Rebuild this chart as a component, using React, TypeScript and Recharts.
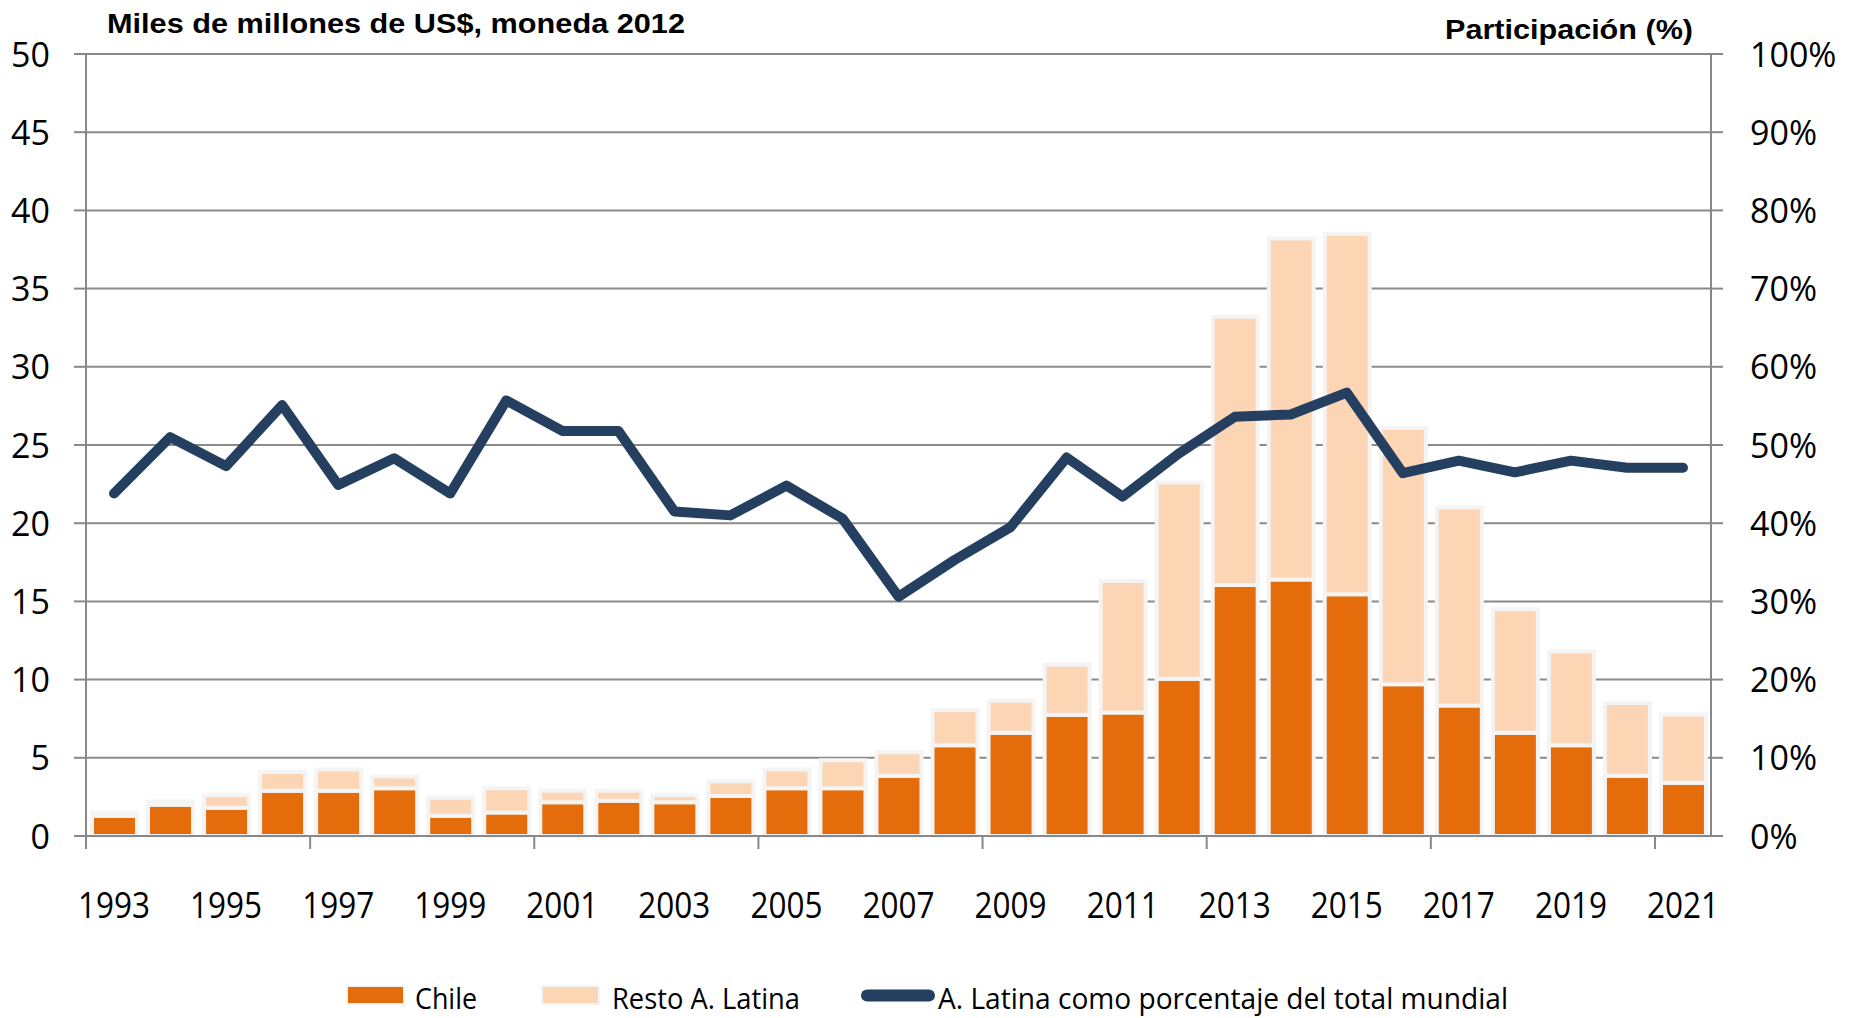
import React from 'react';
import { ComposedChart, Bar, Line, XAxis, YAxis, CartesianGrid } from 'recharts';

const years = [
  '1993', '1994', '1995', '1996', '1997', '1998', '1999', '2000', '2001', '2002',
  '2003', '2004', '2005', '2006', '2007', '2008', '2009', '2010', '2011', '2012',
  '2013', '2014', '2015', '2016', '2017', '2018', '2019', '2020', '2021',
];

const chile = [
  1.3, 2.0, 1.8, 2.9, 2.9, 3.05, 1.3, 1.5, 2.15, 2.25,
  2.15, 2.55, 3.05, 3.05, 3.85, 5.8, 6.6, 7.75, 7.9, 10.05,
  16.05, 16.4, 15.45, 9.7, 8.35, 6.6, 5.8, 3.85, 3.4,
];

const resto = [
  0.2, 0.2, 0.8, 1.2, 1.35, 0.75, 1.15, 1.55, 0.75, 0.65,
  0.45, 0.95, 1.2, 1.8, 1.5, 2.25, 2.05, 3.2, 8.4, 12.55,
  17.15, 21.8, 23.05, 16.4, 12.65, 7.9, 6.0, 4.65, 4.35,
];

const share = [
  43.8, 51.0, 47.3, 55.1, 44.9, 48.3, 43.8, 55.7, 51.8, 51.8,
  41.5, 41.0, 44.8, 40.6, 30.6, 35.3, 39.5, 48.4, 43.4, 48.9,
  53.6, 53.9, 56.7, 46.4, 48.0, 46.5, 48.0, 47.1, 47.1,
];

const leftTicks = [0, 5, 10, 15, 20, 25, 30, 35, 40, 45, 50];
const rightTicks = [0, 10, 20, 30, 40, 50, 60, 70, 80, 90, 100];

const titleLeft = 'Miles de millones de US$, moneda 2012';
const titleRight = 'Participación (%)';
const legendChile = 'Chile';
const legendResto = 'Resto A. Latina';
const legendLine = 'A. Latina como porcentaje del total mundial';

const data = years.map((y, i) => ({ year: y, chile: chile[i], resto: resto[i], share: share[i] }));

const FONT = "'Open Sans', sans-serif";
const BOLD = "'Liberation Sans', Arial, sans-serif";
const AXIS = '#888888';
const ORANGE = '#E46C0A';
const PEACH = '#FCD5B5';
const NAVY = '#243F60';

const XTick = (props: any) => {
  const { x, y, payload, index } = props;
  const half = payload && typeof payload.offset === 'number' ? payload.offset : 0;
  return (
    <g>
      {index % 4 === 0 && (
        <line x1={x - half} x2={x - half} y1={y} y2={y + 13} stroke={AXIS} strokeWidth={2} />
      )}
      {index % 2 === 0 && (
        <text x={x} y={y} dy={82} textAnchor="middle" fontFamily={FONT} fontSize={37}
          textLength={72} lengthAdjust="spacingAndGlyphs" fill="#000">
          {payload.value}
        </text>
      )}
    </g>
  );
};

const LeftTick = (props: any) => {
  const { x, y, payload } = props;
  return (
    <text x={x} y={y} dy={12.5} textAnchor="end" fontFamily={FONT} fontSize={34} fill="#000">
      {payload.value}
    </text>
  );
};

const RightTick = (props: any) => {
  const { x, y, payload } = props;
  return (
    <text x={x} y={y} dy={12.5} textAnchor="start" fontFamily={FONT} fontSize={34} fill="#000">
      {`${payload.value}%`}
    </text>
  );
};

export default function App() {
  return (
    <div style={{ position: 'relative', width: 1838, height: 1010 }}>
      <ComposedChart
        width={1838}
        height={1002}
        data={data}
        margin={{ top: 46, right: 0, left: 0, bottom: 0 }}
      >
        <CartesianGrid yAxisId="left" vertical={false} stroke="#8a8a8a" strokeWidth={2} />
        <XAxis
          dataKey="year"
          interval={0}
          tickLine={false}
          tickSize={0}
          tickMargin={0}
          axisLine={{ stroke: AXIS, strokeWidth: 2 }}
          tick={<XTick />}
          height={174}
        />
        <YAxis
          yAxisId="left"
          domain={[0, 50]}
          ticks={leftTicks}
          interval={0}
          width={78}
          tickSize={12}
          tickMargin={24}
          axisLine={{ stroke: AXIS, strokeWidth: 2 }}
          tickLine={{ stroke: AXIS, strokeWidth: 2 }}
          tick={<LeftTick />}
        />
        <YAxis
          yAxisId="right"
          orientation="right"
          domain={[0, 100]}
          ticks={rightTicks}
          interval={0}
          width={135}
          tickSize={12}
          tickMargin={27}
          axisLine={{ stroke: AXIS, strokeWidth: 2 }}
          tickLine={{ stroke: AXIS, strokeWidth: 2 }}
          tick={<RightTick />}
        />
        <Bar yAxisId="left" dataKey="chile" stackId="a" fill={ORANGE}
          stroke="#f4f4f4" strokeWidth={4} barSize={45} isAnimationActive={false} />
        <Bar yAxisId="left" dataKey="resto" stackId="a" fill={PEACH}
          stroke="#f4f4f4" strokeWidth={4} barSize={45} isAnimationActive={false} />
        <Line yAxisId="right" dataKey="share" type="linear" stroke={NAVY}
          strokeWidth={10} dot={false} strokeLinejoin="round" strokeLinecap="round"
          isAnimationActive={false} />
      </ComposedChart>
      <svg width={1838} height={1010} style={{ position: 'absolute', left: 0, top: 0, pointerEvents: 'none' }}>
        <text x={99} y={25} fontFamily={BOLD} fontWeight="bold" fontSize={27}
          textLength={578} lengthAdjust="spacingAndGlyphs" fill="#000">{titleLeft}</text>
        <text x={1437} y={31} fontFamily={BOLD} fontWeight="bold" fontSize={27}
          textLength={248} lengthAdjust="spacingAndGlyphs" fill="#000">{titleRight}</text>

        <rect x={339} y={978} width={57} height={18} fill={ORANGE} stroke="#f4f4f4" strokeWidth={2} />
        <text x={407} y={1001} fontFamily={FONT} fontSize={29} textLength={62}
          lengthAdjust="spacingAndGlyphs" fill="#000">{legendChile}</text>

        <rect x={534} y={978} width={57} height={18} fill={PEACH} stroke="#f4f4f4" strokeWidth={2} />
        <text x={604} y={1001} fontFamily={FONT} fontSize={29} textLength={188}
          lengthAdjust="spacingAndGlyphs" fill="#000">{legendResto}</text>

        <line x1={859} y1={987.5} x2={921} y2={987.5} stroke={NAVY} strokeWidth={12} strokeLinecap="round" />
        <text x={930} y={1001} fontFamily={FONT} fontSize={29} textLength={570}
          lengthAdjust="spacingAndGlyphs" fill="#000">{legendLine}</text>
      </svg>
    </div>
  );
}
